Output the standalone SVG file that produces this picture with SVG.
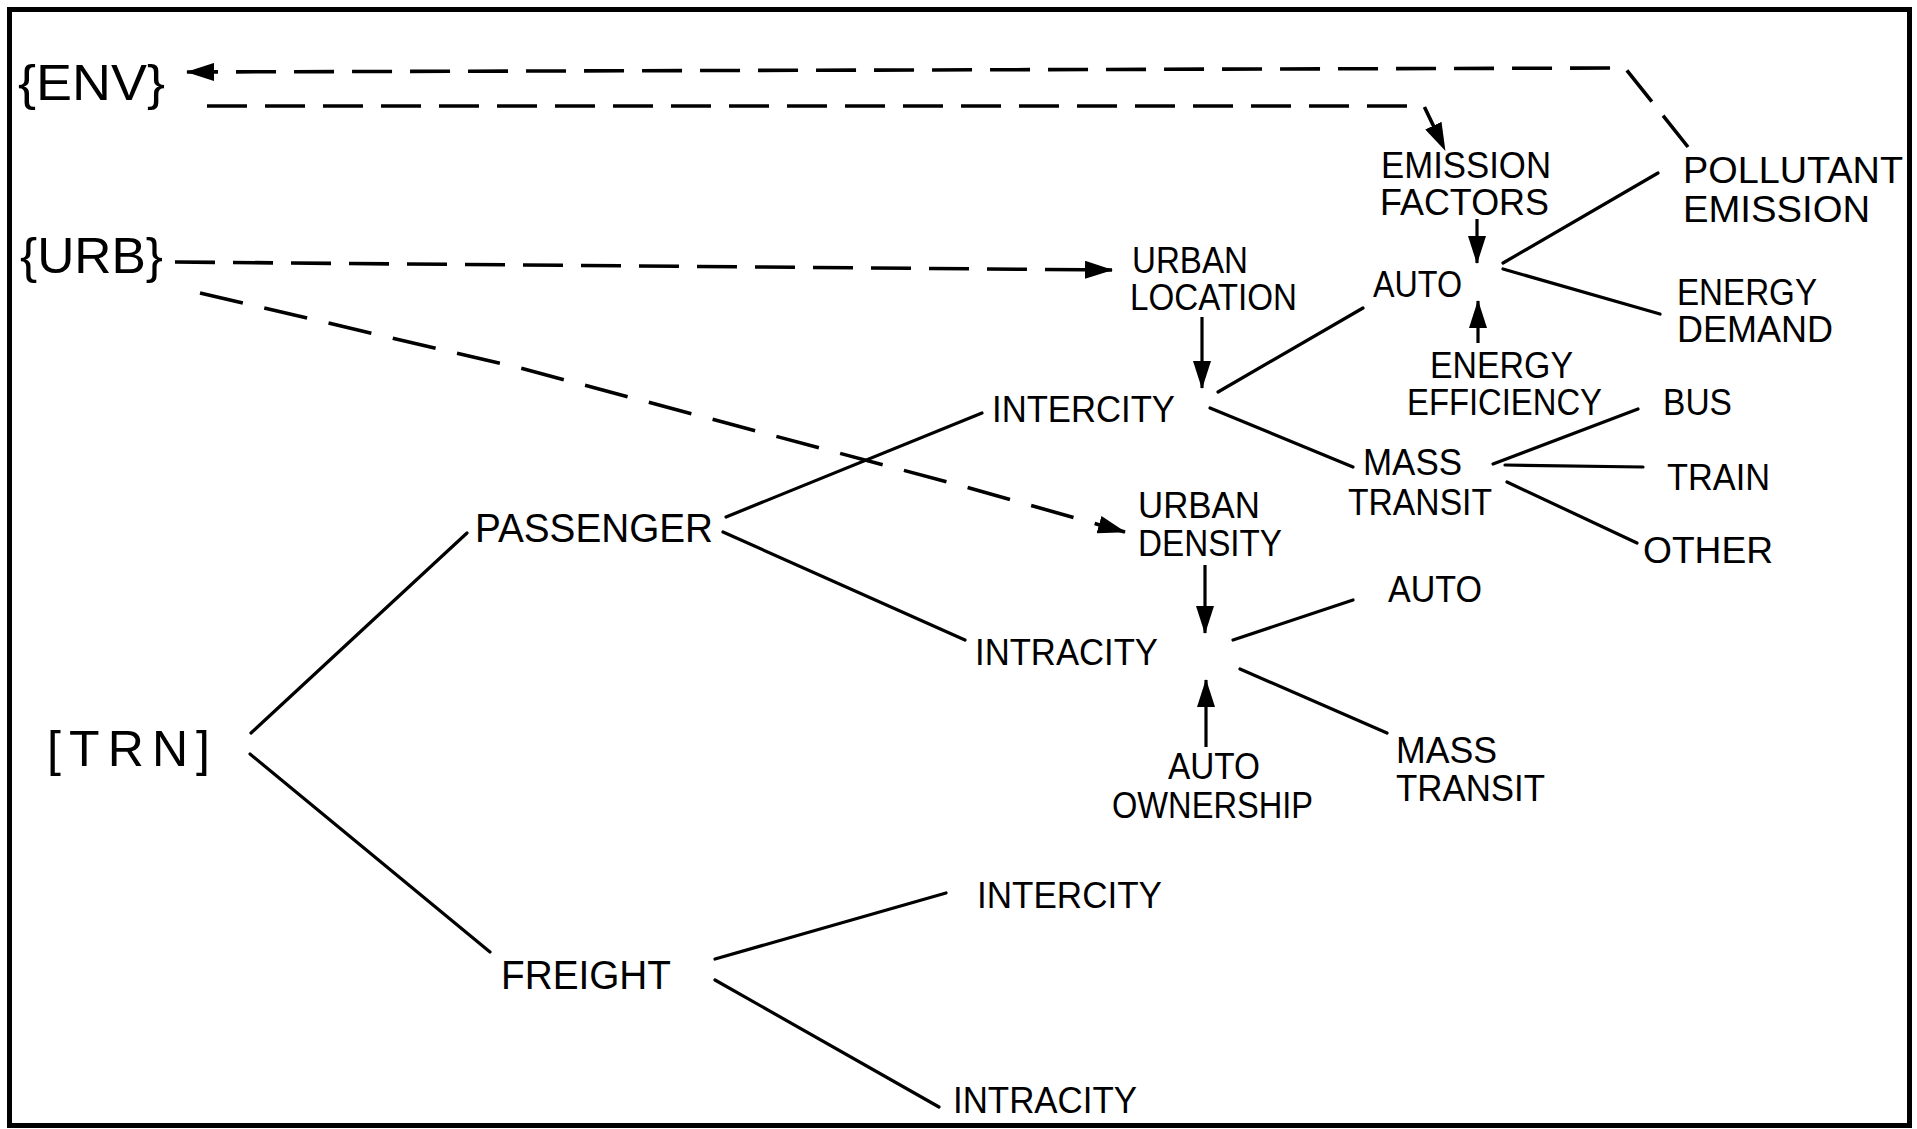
<svg xmlns="http://www.w3.org/2000/svg" width="1917" height="1129" viewBox="0 0 1917 1129">
<style>
text{font-family:"Liberation Sans",Arial,sans-serif;fill:#000;}
.big{font-size:50px;}
.mid{font-size:40px;}
.lab{font-size:36px;}
.ln{stroke:#000;stroke-width:3.2;fill:none;stroke-linecap:round;}
.ar{stroke:#000;stroke-width:3.2;fill:none;marker-end:url(#ah);}
.ds{stroke:#000;stroke-width:3.6;fill:none;stroke-dasharray:40 18;marker-end:url(#ah);}
.dd{stroke:#000;stroke-width:3.6;fill:none;stroke-dasharray:44 22;marker-end:url(#ah);}
</style>
<defs>
<marker id="ah" viewBox="0 0 28 18" refX="27" refY="9" markerWidth="28" markerHeight="18" markerUnits="userSpaceOnUse" orient="auto">
<path d="M0,0 L28,9 L0,18 Z" fill="#000" stroke="none"/>
</marker>
</defs>
<rect x="0" y="0" width="1917" height="1129" fill="#fff"/>
<rect id="frame" x="9.5" y="9.5" width="1900" height="1116" fill="none" stroke="#000" stroke-width="5"/>

<g id="connectors">
<line class="ln" x1="251" y1="733" x2="467" y2="533"/>
<line class="ln" x1="250" y1="754" x2="490" y2="952"/>
<line class="ln" x1="726" y1="517" x2="982" y2="413"/>
<line class="ln" x1="723" y1="532" x2="965" y2="640"/>
<line class="ln" x1="715" y1="959" x2="946" y2="893"/>
<line class="ln" x1="715" y1="980" x2="939" y2="1107"/>
<line class="ln" x1="1218" y1="392" x2="1363" y2="308"/>
<line class="ln" x1="1210" y1="408" x2="1353" y2="467"/>
<line class="ln" x1="1503" y1="263" x2="1658" y2="173"/>
<line class="ln" x1="1503" y1="269" x2="1660" y2="314"/>
<line class="ln" x1="1493" y1="464" x2="1638" y2="409"/>
<line class="ln" x1="1505" y1="465" x2="1643" y2="467"/>
<line class="ln" x1="1507" y1="482" x2="1637" y2="543"/>
<line class="ln" x1="1233" y1="640" x2="1353" y2="600"/>
<line class="ln" x1="1240" y1="669" x2="1387" y2="733"/>
<line class="ar" x1="1202" y1="317" x2="1202" y2="388"/>
<line class="ar" x1="1477" y1="219" x2="1477" y2="263"/>
<line class="ar" x1="1478" y1="343" x2="1478" y2="301"/>
<line class="ar" x1="1205" y1="565" x2="1205" y2="633"/>
<line class="ar" x1="1206" y1="747" x2="1206" y2="680"/>
<path class="ds" d="M1688,147 L1625,68 L187,72"/>
<path class="ds" d="M207,106 L1424,106 L1445,150"/>
<path class="ds" d="M175,262 L1112,270"/>
<path class="dd" d="M200,293 L520,368 L955,484 L1125,532"/>
</g>

<g id="env"><text class="big" x="18" y="100" textLength="147" lengthAdjust="spacingAndGlyphs">{ENV}</text></g>
<g id="urb"><text class="big" x="20" y="273" textLength="143" lengthAdjust="spacingAndGlyphs">{URB}</text></g>
<g id="trn"><text class="big" x="47" y="766" textLength="163" lengthAdjust="spacing">[TRN]</text></g>
<g id="passenger"><text class="mid" x="475" y="542" textLength="238" lengthAdjust="spacingAndGlyphs">PASSENGER</text></g>
<g id="freight"><text class="mid" x="501" y="989" textLength="170" lengthAdjust="spacingAndGlyphs">FREIGHT</text></g>
<g id="emission-factors">
<text class="lab" x="1381" y="178" textLength="170" lengthAdjust="spacingAndGlyphs">EMISSION</text>
<text class="lab" x="1380" y="215" textLength="169" lengthAdjust="spacingAndGlyphs">FACTORS</text>
</g>
<g id="pollutant-emission">
<text class="lab" x="1683" y="183" textLength="220" lengthAdjust="spacingAndGlyphs">POLLUTANT</text>
<text class="lab" x="1683" y="222" textLength="187" lengthAdjust="spacingAndGlyphs">EMISSION</text>
</g>
<g id="urban-location">
<text class="lab" x="1132" y="273" textLength="116" lengthAdjust="spacingAndGlyphs">URBAN</text>
<text class="lab" x="1130" y="310" textLength="167" lengthAdjust="spacingAndGlyphs">LOCATION</text>
</g>
<g id="auto-intercity"><text class="lab" x="1373" y="297" textLength="89" lengthAdjust="spacingAndGlyphs">AUTO</text></g>
<g id="energy-demand">
<text class="lab" x="1677" y="305" textLength="140" lengthAdjust="spacingAndGlyphs">ENERGY</text>
<text class="lab" x="1677" y="342" textLength="156" lengthAdjust="spacingAndGlyphs">DEMAND</text>
</g>
<g id="energy-efficiency">
<text class="lab" x="1430" y="378" textLength="143" lengthAdjust="spacingAndGlyphs">ENERGY</text>
<text class="lab" x="1407" y="415" textLength="195" lengthAdjust="spacingAndGlyphs">EFFICIENCY</text>
</g>
<g id="bus"><text class="lab" x="1663" y="415" textLength="69" lengthAdjust="spacingAndGlyphs">BUS</text></g>
<g id="train"><text class="lab" x="1667" y="490" textLength="103" lengthAdjust="spacingAndGlyphs">TRAIN</text></g>
<g id="other"><text class="lab" x="1643" y="563" textLength="130" lengthAdjust="spacingAndGlyphs">OTHER</text></g>
<g id="intercity-passenger"><text class="lab" x="992" y="422" textLength="183" lengthAdjust="spacingAndGlyphs">INTERCITY</text></g>
<g id="mass-transit-intercity">
<text class="lab" x="1363" y="475" textLength="99" lengthAdjust="spacingAndGlyphs">MASS</text>
<text class="lab" x="1348" y="515" textLength="144" lengthAdjust="spacingAndGlyphs">TRANSIT</text>
</g>
<g id="urban-density">
<text class="lab" x="1138" y="518" textLength="122" lengthAdjust="spacingAndGlyphs">URBAN</text>
<text class="lab" x="1138" y="556" textLength="144" lengthAdjust="spacingAndGlyphs">DENSITY</text>
</g>
<g id="intracity-passenger"><text class="lab" x="975" y="665" textLength="183" lengthAdjust="spacingAndGlyphs">INTRACITY</text></g>
<g id="auto-intracity"><text class="lab" x="1388" y="602" textLength="94" lengthAdjust="spacingAndGlyphs">AUTO</text></g>
<g id="auto-ownership">
<text class="lab" x="1168" y="779" textLength="92" lengthAdjust="spacingAndGlyphs">AUTO</text>
<text class="lab" x="1112" y="818" textLength="201" lengthAdjust="spacingAndGlyphs">OWNERSHIP</text>
</g>
<g id="mass-transit-intracity">
<text class="lab" x="1396" y="763" textLength="101" lengthAdjust="spacingAndGlyphs">MASS</text>
<text class="lab" x="1396" y="801" textLength="149" lengthAdjust="spacingAndGlyphs">TRANSIT</text>
</g>
<g id="intercity-freight"><text class="lab" x="977" y="908" textLength="185" lengthAdjust="spacingAndGlyphs">INTERCITY</text></g>
<g id="intracity-freight"><text class="lab" x="953" y="1113" textLength="184" lengthAdjust="spacingAndGlyphs">INTRACITY</text></g>
</svg>
